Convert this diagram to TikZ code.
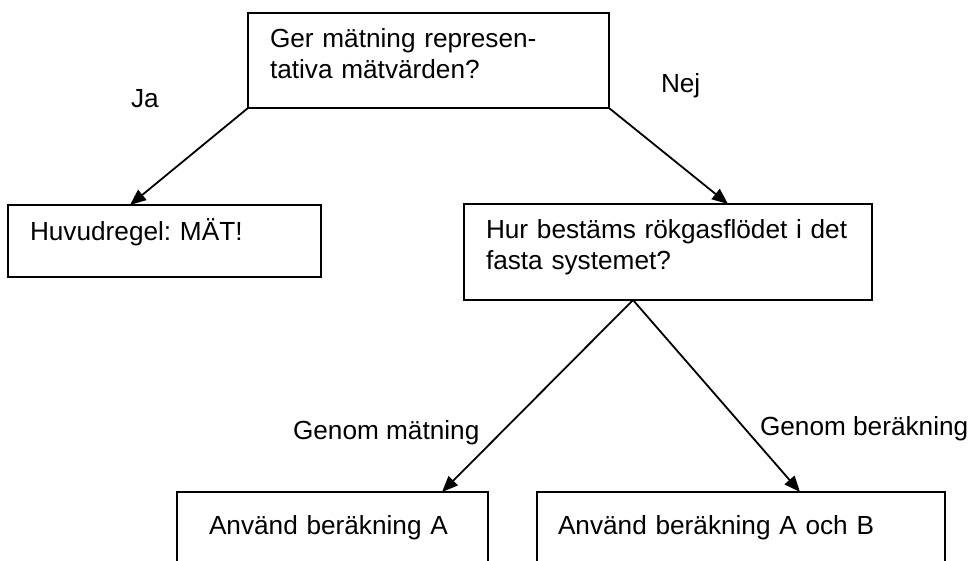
\documentclass[tikz,border=0pt]{standalone}
\usepackage{fontspec}
\setmainfont{Liberation Sans}
\usetikzlibrary{arrows.meta}
\frenchspacing
\tikzset{
	>={Triangle[length=16pt,width=13pt]},
	every node/.append style={
		font=\fontsize{26.2pt}{31pt}\selectfont,
		outer sep=0pt,
	},
	box/.append style={
		draw,
		anchor=north west,
		align=left,
		inner xsep=22pt,
		inner ysep=0pt,
		text height=34pt,
	},
	labe/.append style={
		anchor=base west,
		inner sep=0pt,
	},
}

\begin{document}
\begin{tikzpicture}[x=1pt,y=-1pt,line width=1.8pt]
\useasboundingbox (0,0) rectangle (973,560);
\clip (0,0) rectangle (973,560);

\node(fraga)[box, text width=317pt, text depth=61pt] at (248,13) {Ger mätning represen-\\tativa mätvärden?};
\node(matt)[box, text width=269pt, text height=35pt, text depth=37pt] at (8,205) {Huvudregel: MÄT!};
\node(hur)[box, text width=364pt, text depth=62pt] at (464,204) {Hur bestäms rökgasflödet i det\\fasta systemet?};
\node(berA)[box, inner xsep=32pt, text width=247pt, text height=42pt, text depth=41pt] at (177,492) {Använd beräkning A};
\node(berAB)[box, inner xsep=21pt, text width=366pt, text height=42pt, text depth=41pt] at (537,492) {Använd beräkning A och B};

\node(ja)[labe] at (131,107) {Ja};
\node(nej)[labe] at (661,92) {Nej};
\node(genmat)[labe] at (293,439) {Genom mätning};
\node(genber)[labe] at (760,435) {Genom beräkning};

\draw[->] (fraga.south west) -- ([xshift=122pt]matt.north west);
\draw[->] (fraga.south east) -- ([xshift=264pt]hur.north west);
\draw[->] ([xshift=169pt]hur.south west) -- ([xshift=265pt]berA.north west);
\draw[->] ([xshift=169pt]hur.south west) -- ([xshift=263pt]berAB.north west);

\end{tikzpicture}
\end{document}
